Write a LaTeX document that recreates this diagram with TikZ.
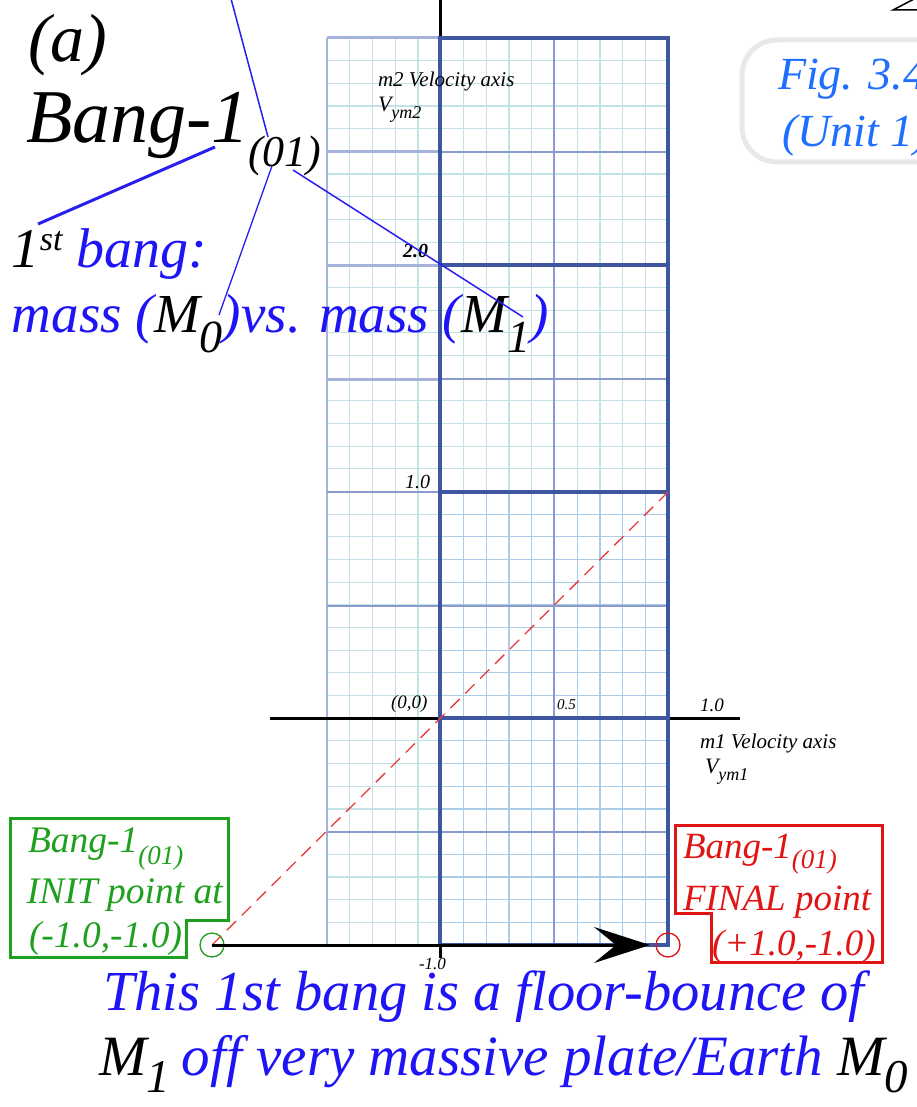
\documentclass[tikz,border=0pt]{standalone}
\usepackage{fontspec}
\setmainfont{Liberation Serif}
\usetikzlibrary{arrows.meta,calc}
\definecolor{bluet}{RGB}{30,20,245}
\definecolor{figblue}{RGB}{30,110,255}
\definecolor{figgray}{RGB}{232,232,232}
\definecolor{greenc}{RGB}{30,160,30}
\definecolor{redc}{RGB}{225,20,20}
\definecolor{dashred}{RGB}{230,60,60}
\definecolor{majorblue}{RGB}{62,86,160}
\definecolor{medblue}{RGB}{140,155,205}
\definecolor{minorc}{RGB}{195,226,230}
\definecolor{minorb}{RGB}{170,204,232}
\definecolor{leftbox}{RGB}{165,178,220}
\definecolor{leader}{RGB}{40,30,240}
\newcommand{\fsz}[1]{\fontsize{#1}{#1}\selectfont}
\newcommand{\lowr}[3]{\raisebox{-#1pt}{\fsz{#2}#3}}
\begin{document}
\begin{tikzpicture}[x=1pt,y=-1pt,
  every node/.style={inner sep=0pt,outer sep=0pt,font=\itshape},
  lbl/.style={anchor=base west},
  minorline/.style={line width=1.1pt},
  majorline/.style={majorblue,line width=3.5pt},
  medline/.style={medblue,line width=2pt},
  leadline/.style={leader,line width=1.5pt},
  axisline/.style={black,line width=3pt}]
\useasboundingbox (0,0) rectangle (917,1107);
\clip (0,0) rectangle (917,1107);
% minor grid
\foreach \i in {0,...,15}{\pgfmathsetmacro\xx{327+\i*22.75}
  \draw[minorline,minorc] (\xx,38) -- (\xx,945);}
\foreach \j in {0,...,40}{\pgfmathsetmacro\yy{38+\j*22.675}
  \draw[minorline,minorc] (327,\yy) -- (668,\yy);}
\foreach \i in {5,...,15}{\pgfmathsetmacro\xx{327+\i*22.75}
  \draw[minorline,minorb] (\xx,492) -- (\xx,945);}
\foreach \j in {20,...,40}{\pgfmathsetmacro\yy{38+\j*22.675}
  \draw[minorline,minorb] (440,\yy) -- (668,\yy);}
% left column
\draw[leftbox,line width=2.5pt] (327,38) -- (327,945);
\foreach \y in {38,152,265,379}{\draw[leftbox,line width=3pt] (327,\y) -- (440,\y);}
\foreach \y in {492,606,832}{\draw[medline,line width=1.5pt] (327,\y) -- (440,\y);}
% medium lines right
\draw[medline] (554,38) -- (554,945);
\foreach \y in {152,379,606,832}{\draw[medline] (440,\y) -- (668,\y);}
% black axes
\draw[axisline] (440,0) -- (440,38);
\draw[axisline] (270,718) -- (740,718);
\draw[axisline] (440,945) -- (440,958);
% major lines
\draw[majorline] (440,38) rectangle (668,945);
\foreach \y in {265,492,718}{\draw[majorline] (440,\y) -- (668,\y);}
% points, arrow, dashed
\node[circle,draw=greenc,line width=1.3pt,minimum size=24pt] (init) at (212,945) {};
\node[circle,draw=redc,line width=1.3pt,minimum size=24pt] (final) at (668,945) {};
\coordinate (dend) at (672,488);
\draw[dashred,dash pattern=on 13pt off 8pt,line width=1.3pt] (init.center) -- (dend);
\draw[black,line width=3pt,shorten >=6pt,-{Stealth[length=56pt,width=36pt,inset=22pt]}] (init.center) -- (final.west);
% axis labels
\node[lbl,font=\itshape\fsz{21}] (m2ax) at (378,87) {m2 Velocity axis};
\node[lbl,font=\itshape\fsz{22}] (vym2) at (378,112) {V\lowr{7}{18}{ym2}};
\node[lbl,font=\itshape\bfseries\fsz{20}] (l20) at (403,257) {2.0};
\node[lbl,font=\itshape\fsz{20}] (l10) at (405,488) {1.0};
\node[lbl,font=\itshape\fsz{19}] (l00) at (391,708) {(0,0)};
\node[lbl,font=\itshape\fsz{15}] (l05) at (557,709) {0.5};
\node[lbl,font=\itshape\fsz{19}] (l1x) at (700,711) {1.0};
\node[lbl,font=\itshape\fsz{21}] (m1ax) at (700,748) {m1 Velocity axis};
\node[lbl,font=\itshape\fsz{22}] (vym1) at (705,773) {V\lowr{7}{18}{ym1}};
\node[lbl,font=\itshape\fsz{17}] (lm1) at (419,969) {-1.0};
% title texts
\node[lbl,font=\itshape\fsz{68}] (ta) at (28,62) {(a)};
\node[lbl,font=\itshape\fsz{76}] (tbang) at (26,143) {Bang-1};
\node[lbl,font=\itshape\fsz{44}] (t01) at (248,167) {(01)};
\node[lbl,font=\itshape\fsz{56}] (tfirst) at (12,267) {1\raisebox{17pt}{\fsz{34}st} \textcolor{bluet}{bang:}};
\node[lbl,font=\itshape\fsz{55}] (tmass) at (12,332) {\textcolor{bluet}{mass (}M\lowr{20}{46}{0}\textcolor{bluet}{)vs. mass (}M\lowr{20}{46}{1}\textcolor{bluet}{)}};
% leader lines
\coordinate (la) at (230,-5);
\coordinate (lb) at (38,224);
\coordinate (lc) at (219,315);
\coordinate (ld) at (523,317);
\draw[leadline] (la) -- (268,137);
\draw[leadline,line width=3pt] (215,147) -- (lb);
\draw[leadline,line width=1.3pt] (272,166) -- (lc);
\draw[leadline] (293,170) -- (ld);
% green box
\draw[greenc,line width=3pt] (10,818) -- (228,818) -- (228,920) -- (186,920) -- (186,957) -- (10,957) -- cycle;
\node[lbl,font=\itshape\fsz{37.5},text=greenc] (g1) at (28,852) {Bang-1\lowr{12}{27}{(01)}};
\node[lbl,font=\itshape\fsz{37.5},text=greenc] (g2) at (27,903) {INIT point at};
\node[lbl,font=\itshape\fsz{37.5},text=greenc] (g3) at (29,947) {(-1.0,-1.0)};
% red box
\draw[redc,line width=3pt] (675,825) -- (882,825) -- (882,962) -- (711,962) -- (711,913) -- (675,913) -- cycle;
\node[lbl,font=\itshape\fsz{37},text=redc] (r1) at (683,858) {Bang-1\lowr{10}{27}{(01)}};
\node[lbl,font=\itshape\fsz{37},text=redc] (r2) at (683,910) {FINAL point};
\node[lbl,font=\itshape\fsz{37},text=redc] (r3) at (712,955) {(+1.0,-1.0)};
% bottom text
\node[lbl,font=\itshape\fsz{56.5},text=bluet] (b1) at (103,1010) {This 1st bang is a floor-bounce of};
\node[lbl,font=\itshape\fsz{57}] (b2) at (99,1075) {M\lowr{17}{47}{1}\hspace{12pt}\textcolor{bluet}{off very massive plate/Earth }M\lowr{17}{47}{0}};
% fig box
\draw[figgray,line width=5pt,rounded corners=35pt] (742,40) rectangle (1000,162);
\node[lbl,font=\itshape\fsz{46},text=figblue] (fig1) at (778,90) {Fig. 3.4};
\node[lbl,font=\itshape\fsz{46},text=figblue] (fig2) at (782,147) {(Unit 1)};
% top right glyph fragment
\draw[black,line width=1.5pt] (914,-1) -- (893,10) -- (917,10);
\end{tikzpicture}
\end{document}
